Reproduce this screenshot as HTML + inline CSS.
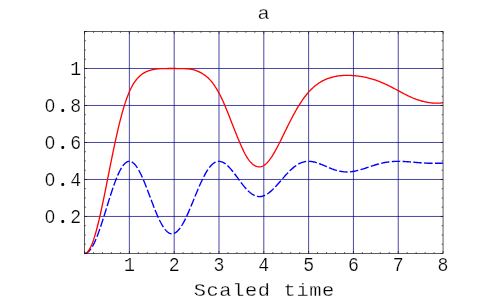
<!DOCTYPE html>
<html><head><meta charset="utf-8"><title>plot</title>
<style>
html,body{margin:0;padding:0;background:#fff;}
svg{display:block;will-change:transform}
.g{stroke:#000080;stroke-width:0.72;fill:none}
.t{stroke:#000;stroke-width:0.6;fill:none}
.f{stroke:#000;stroke-width:0.64;fill:none}
.b{stroke:#0000ff;stroke-width:1.38;fill:none;stroke-dasharray:8.4 2.4}
.r{stroke:#ff0000;stroke-width:1.32;fill:none}
text{font-family:"Liberation Mono",monospace;fill:#000;stroke:#fff;stroke-width:0.25px}
.d{font-size:20.0px}
.l{font-size:18.0px}
</style></head>
<body>
<svg width="491" height="304" viewBox="0 0 491 304">
<rect width="491" height="304" fill="#fff"/>
<line x1="129.36" y1="31.50" x2="129.36" y2="253.45" class="g"/>
<line x1="174.18" y1="31.50" x2="174.18" y2="253.45" class="g"/>
<line x1="218.99" y1="31.50" x2="218.99" y2="253.45" class="g"/>
<line x1="263.80" y1="31.50" x2="263.80" y2="253.45" class="g"/>
<line x1="308.61" y1="31.50" x2="308.61" y2="253.45" class="g"/>
<line x1="353.43" y1="31.50" x2="353.43" y2="253.45" class="g"/>
<line x1="398.24" y1="31.50" x2="398.24" y2="253.45" class="g"/>
<line x1="84.55" y1="216.46" x2="443.05" y2="216.46" class="g"/>
<line x1="84.55" y1="179.47" x2="443.05" y2="179.47" class="g"/>
<line x1="84.55" y1="142.47" x2="443.05" y2="142.47" class="g"/>
<line x1="84.55" y1="105.48" x2="443.05" y2="105.48" class="g"/>
<line x1="84.55" y1="68.49" x2="443.05" y2="68.49" class="g"/>
<path d="M84.55,253.45v-2.4 M84.55,31.50v2.4 M93.51,253.45v-1.4 M93.51,31.50v1.4 M102.47,253.45v-1.4 M102.47,31.50v1.4 M111.44,253.45v-1.4 M111.44,31.50v1.4 M120.40,253.45v-1.4 M120.40,31.50v1.4 M129.36,253.45v-2.4 M129.36,31.50v2.4 M138.32,253.45v-1.4 M138.32,31.50v1.4 M147.29,253.45v-1.4 M147.29,31.50v1.4 M156.25,253.45v-1.4 M156.25,31.50v1.4 M165.21,253.45v-1.4 M165.21,31.50v1.4 M174.18,253.45v-2.4 M174.18,31.50v2.4 M183.14,253.45v-1.4 M183.14,31.50v1.4 M192.10,253.45v-1.4 M192.10,31.50v1.4 M201.06,253.45v-1.4 M201.06,31.50v1.4 M210.03,253.45v-1.4 M210.03,31.50v1.4 M218.99,253.45v-2.4 M218.99,31.50v2.4 M227.95,253.45v-1.4 M227.95,31.50v1.4 M236.91,253.45v-1.4 M236.91,31.50v1.4 M245.88,253.45v-1.4 M245.88,31.50v1.4 M254.84,253.45v-1.4 M254.84,31.50v1.4 M263.80,253.45v-2.4 M263.80,31.50v2.4 M272.76,253.45v-1.4 M272.76,31.50v1.4 M281.73,253.45v-1.4 M281.73,31.50v1.4 M290.69,253.45v-1.4 M290.69,31.50v1.4 M299.65,253.45v-1.4 M299.65,31.50v1.4 M308.61,253.45v-2.4 M308.61,31.50v2.4 M317.57,253.45v-1.4 M317.57,31.50v1.4 M326.54,253.45v-1.4 M326.54,31.50v1.4 M335.50,253.45v-1.4 M335.50,31.50v1.4 M344.46,253.45v-1.4 M344.46,31.50v1.4 M353.43,253.45v-2.4 M353.43,31.50v2.4 M362.39,253.45v-1.4 M362.39,31.50v1.4 M371.35,253.45v-1.4 M371.35,31.50v1.4 M380.31,253.45v-1.4 M380.31,31.50v1.4 M389.28,253.45v-1.4 M389.28,31.50v1.4 M398.24,253.45v-2.4 M398.24,31.50v2.4 M407.20,253.45v-1.4 M407.20,31.50v1.4 M416.16,253.45v-1.4 M416.16,31.50v1.4 M425.13,253.45v-1.4 M425.13,31.50v1.4 M434.09,253.45v-1.4 M434.09,31.50v1.4 M443.05,253.45v-2.4 M443.05,31.50v2.4 M84.55,253.45h2.4 M443.05,253.45h-2.4 M84.55,244.20h1.4 M443.05,244.20h-1.4 M84.55,234.95h1.4 M443.05,234.95h-1.4 M84.55,225.71h1.4 M443.05,225.71h-1.4 M84.55,216.46h2.4 M443.05,216.46h-2.4 M84.55,207.21h1.4 M443.05,207.21h-1.4 M84.55,197.96h1.4 M443.05,197.96h-1.4 M84.55,188.71h1.4 M443.05,188.71h-1.4 M84.55,179.47h2.4 M443.05,179.47h-2.4 M84.55,170.22h1.4 M443.05,170.22h-1.4 M84.55,160.97h1.4 M443.05,160.97h-1.4 M84.55,151.72h1.4 M443.05,151.72h-1.4 M84.55,142.47h2.4 M443.05,142.47h-2.4 M84.55,133.23h1.4 M443.05,133.23h-1.4 M84.55,123.98h1.4 M443.05,123.98h-1.4 M84.55,114.73h1.4 M443.05,114.73h-1.4 M84.55,105.48h2.4 M443.05,105.48h-2.4 M84.55,96.24h1.4 M443.05,96.24h-1.4 M84.55,86.99h1.4 M443.05,86.99h-1.4 M84.55,77.74h1.4 M443.05,77.74h-1.4 M84.55,68.49h2.4 M443.05,68.49h-2.4 M84.55,59.24h1.4 M443.05,59.24h-1.4 M84.55,50.00h1.4 M443.05,50.00h-1.4 M84.55,40.75h1.4 M443.05,40.75h-1.4 M84.55,31.50h2.4 M443.05,31.50h-2.4" class="t"/>
<path d="M84.55,253.45 L85.45,253.36 L86.34,253.08 L87.24,252.61 L88.13,251.97 L89.03,251.14 L89.93,250.14 L90.82,248.96 L91.72,247.62 L92.62,246.11 L93.51,244.45 L94.41,242.64 L95.30,240.69 L96.20,238.60 L97.10,236.39 L97.99,234.06 L98.89,231.63 L99.79,229.10 L100.68,226.48 L101.58,223.79 L102.47,221.04 L103.37,218.23 L104.27,215.38 L105.16,212.50 L106.06,209.60 L106.96,206.69 L107.85,203.79 L108.75,200.91 L109.64,198.05 L110.54,195.23 L111.44,192.47 L112.33,189.76 L113.23,187.13 L114.13,184.58 L115.02,182.12 L115.92,179.76 L116.81,177.51 L117.71,175.39 L118.61,173.39 L119.50,171.52 L120.40,169.80 L121.30,168.22 L122.19,166.80 L123.09,165.53 L123.98,164.42 L124.88,163.49 L125.78,162.71 L126.67,162.11 L127.57,161.68 L128.47,161.43 L129.36,161.34 L130.26,161.43 L131.16,161.68 L132.05,162.10 L132.95,162.69 L133.84,163.43 L134.74,164.33 L135.64,165.39 L136.53,166.58 L137.43,167.92 L138.32,169.39 L139.22,170.98 L140.12,172.70 L141.01,174.52 L141.91,176.44 L142.81,178.45 L143.70,180.54 L144.60,182.71 L145.50,184.94 L146.39,187.22 L147.29,189.55 L148.18,191.90 L149.08,194.28 L149.98,196.67 L150.87,199.06 L151.77,201.44 L152.66,203.80 L153.56,206.13 L154.46,208.42 L155.35,210.66 L156.25,212.84 L157.15,214.95 L158.04,216.99 L158.94,218.94 L159.83,220.80 L160.73,222.55 L161.63,224.20 L162.52,225.73 L163.42,227.15 L164.32,228.44 L165.21,229.59 L166.11,230.62 L167.00,231.50 L167.90,232.24 L168.80,232.84 L169.69,233.30 L170.59,233.60 L171.49,233.76 L172.38,233.77 L173.28,233.63 L174.18,233.35 L175.07,232.93 L175.97,232.36 L176.86,231.65 L177.76,230.81 L178.66,229.84 L179.55,228.74 L180.45,227.52 L181.34,226.19 L182.24,224.74 L183.14,223.19 L184.03,221.55 L184.93,219.81 L185.83,218.00 L186.72,216.11 L187.62,214.15 L188.51,212.13 L189.41,210.06 L190.31,207.95 L191.20,205.81 L192.10,203.63 L193.00,201.45 L193.89,199.25 L194.79,197.05 L195.69,194.86 L196.58,192.69 L197.48,190.54 L198.37,188.42 L199.27,186.34 L200.17,184.31 L201.06,182.33 L201.96,180.42 L202.86,178.56 L203.75,176.78 L204.65,175.08 L205.54,173.46 L206.44,171.93 L207.34,170.49 L208.23,169.15 L209.13,167.91 L210.02,166.77 L210.92,165.74 L211.82,164.81 L212.71,163.99 L213.61,163.28 L214.51,162.68 L215.40,162.20 L216.30,161.82 L217.19,161.55 L218.09,161.39 L218.99,161.34 L219.88,161.39 L220.78,161.55 L221.68,161.80 L222.57,162.15 L223.47,162.59 L224.37,163.12 L225.26,163.73 L226.16,164.42 L227.05,165.19 L227.95,166.02 L228.85,166.92 L229.74,167.88 L230.64,168.89 L231.53,169.95 L232.43,171.05 L233.33,172.19 L234.22,173.35 L235.12,174.54 L236.02,175.75 L236.91,176.96 L237.81,178.19 L238.70,179.41 L239.60,180.62 L240.50,181.83 L241.39,183.01 L242.29,184.17 L243.19,185.31 L244.08,186.41 L244.98,187.47 L245.88,188.50 L246.77,189.47 L247.67,190.40 L248.56,191.27 L249.46,192.08 L250.36,192.83 L251.25,193.52 L252.15,194.14 L253.05,194.70 L253.94,195.19 L254.84,195.60 L255.73,195.94 L256.63,196.21 L257.53,196.41 L258.42,196.53 L259.32,196.58 L260.21,196.56 L261.11,196.46 L262.01,196.29 L262.90,196.06 L263.80,195.75 L264.70,195.38 L265.59,194.94 L266.49,194.45 L267.38,193.89 L268.28,193.28 L269.18,192.61 L270.07,191.89 L270.97,191.13 L271.87,190.32 L272.76,189.48 L273.66,188.59 L274.56,187.68 L275.45,186.74 L276.35,185.77 L277.24,184.78 L278.14,183.77 L279.04,182.75 L279.93,181.72 L280.83,180.69 L281.73,179.66 L282.62,178.62 L283.52,177.60 L284.41,176.58 L285.31,175.57 L286.21,174.59 L287.10,173.62 L288.00,172.67 L288.89,171.75 L289.79,170.86 L290.69,169.99 L291.58,169.17 L292.48,168.37 L293.38,167.61 L294.27,166.89 L295.17,166.22 L296.06,165.58 L296.96,164.99 L297.86,164.44 L298.75,163.93 L299.65,163.47 L300.55,163.06 L301.44,162.69 L302.34,162.37 L303.24,162.09 L304.13,161.86 L305.03,161.67 L305.92,161.52 L306.82,161.42 L307.72,161.36 L308.61,161.34 L309.51,161.36 L310.40,161.42 L311.30,161.51 L312.20,161.64 L313.09,161.80 L313.99,161.99 L314.89,162.20 L315.78,162.45 L316.68,162.72 L317.57,163.01 L318.47,163.32 L319.37,163.64 L320.26,163.99 L321.16,164.34 L322.06,164.71 L322.95,165.09 L323.85,165.47 L324.75,165.85 L325.64,166.24 L326.54,166.63 L327.43,167.02 L328.33,167.40 L329.23,167.77 L330.12,168.14 L331.02,168.50 L331.91,168.85 L332.81,169.18 L333.71,169.50 L334.60,169.80 L335.50,170.09 L336.40,170.36 L337.29,170.61 L338.19,170.84 L339.08,171.05 L339.98,171.24 L340.88,171.41 L341.77,171.55 L342.67,171.68 L343.57,171.78 L344.46,171.85 L345.36,171.91 L346.25,171.94 L347.15,171.94 L348.05,171.93 L348.94,171.89 L349.84,171.83 L350.74,171.75 L351.63,171.65 L352.53,171.53 L353.43,171.39 L354.32,171.23 L355.22,171.06 L356.11,170.87 L357.01,170.66 L357.91,170.44 L358.80,170.21 L359.70,169.96 L360.60,169.71 L361.49,169.44 L362.39,169.16 L363.28,168.88 L364.18,168.59 L365.08,168.30 L365.97,168.00 L366.87,167.70 L367.77,167.40 L368.66,167.09 L369.56,166.79 L370.45,166.49 L371.35,166.19 L372.25,165.89 L373.14,165.60 L374.04,165.31 L374.94,165.03 L375.83,164.76 L376.73,164.50 L377.62,164.24 L378.52,163.99 L379.42,163.75 L380.31,163.52 L381.21,163.30 L382.11,163.09 L383.00,162.90 L383.90,162.71 L384.79,162.54 L385.69,162.38 L386.59,162.23 L387.48,162.09 L388.38,161.97 L389.27,161.85 L390.17,161.75 L391.07,161.66 L391.96,161.58 L392.86,161.52 L393.76,161.46 L394.65,161.42 L395.55,161.38 L396.44,161.36 L397.34,161.35 L398.24,161.34 L399.13,161.35 L400.03,161.36 L400.93,161.38 L401.82,161.41 L402.72,161.44 L403.62,161.48 L404.51,161.53 L405.41,161.58 L406.30,161.64 L407.20,161.70 L408.10,161.77 L408.99,161.84 L409.89,161.91 L410.79,161.98 L411.68,162.06 L412.58,162.13 L413.47,162.21 L414.37,162.28 L415.27,162.36 L416.16,162.44 L417.06,162.51 L417.96,162.58 L418.85,162.65 L419.75,162.72 L420.64,162.79 L421.54,162.85 L422.44,162.91 L423.33,162.96 L424.23,163.02 L425.12,163.06 L426.02,163.11 L426.92,163.15 L427.81,163.19 L428.71,163.22 L429.61,163.24 L430.50,163.27 L431.40,163.28 L432.30,163.30 L433.19,163.31 L434.09,163.31 L434.98,163.31 L435.88,163.31 L436.78,163.30 L437.67,163.29 L438.57,163.27 L439.47,163.25 L440.36,163.23 L441.26,163.20 L442.15,163.17 L443.05,163.13" class="b"/>
<path d="M84.55,253.45 L85.45,253.31 L86.34,252.89 L87.24,252.19 L88.13,251.22 L89.03,249.97 L89.93,248.46 L90.82,246.69 L91.72,244.67 L92.62,242.40 L93.51,239.89 L94.41,237.16 L95.30,234.22 L96.20,231.07 L97.10,227.73 L97.99,224.22 L98.89,220.54 L99.79,216.71 L100.68,212.74 L101.58,208.66 L102.47,204.46 L103.37,200.18 L104.27,195.82 L105.16,191.39 L106.06,186.92 L106.96,182.42 L107.85,177.90 L108.75,173.37 L109.64,168.86 L110.54,164.37 L111.44,159.91 L112.33,155.50 L113.23,151.15 L114.13,146.87 L115.02,142.68 L115.92,138.57 L116.81,134.56 L117.71,130.65 L118.61,126.86 L119.50,123.19 L120.40,119.64 L121.30,116.22 L122.19,112.93 L123.09,109.78 L123.98,106.77 L124.88,103.89 L125.78,101.16 L126.67,98.59 L127.57,96.17 L128.47,93.91 L129.36,91.79 L130.26,89.81 L131.16,87.97 L132.05,86.26 L132.95,84.68 L133.84,83.22 L134.74,81.87 L135.64,80.63 L136.53,79.48 L137.43,78.42 L138.32,77.45 L139.22,76.56 L140.12,75.73 L141.01,74.97 L141.91,74.28 L142.81,73.65 L143.70,73.08 L144.60,72.56 L145.50,72.09 L146.39,71.67 L147.29,71.29 L148.18,70.94 L149.08,70.63 L149.98,70.34 L150.87,70.09 L151.77,69.86 L152.66,69.66 L153.56,69.48 L154.46,69.32 L155.35,69.18 L156.25,69.05 L157.15,68.95 L158.04,68.85 L158.94,68.78 L159.83,68.71 L160.73,68.66 L161.63,68.62 L162.52,68.59 L163.42,68.58 L164.32,68.56 L165.21,68.55 L166.11,68.55 L167.00,68.54 L167.90,68.53 L168.80,68.53 L169.69,68.53 L170.59,68.53 L171.49,68.53 L172.38,68.53 L173.28,68.53 L174.18,68.53 L175.07,68.53 L175.97,68.53 L176.86,68.54 L177.76,68.54 L178.66,68.55 L179.55,68.56 L180.45,68.57 L181.34,68.59 L182.24,68.61 L183.14,68.63 L184.03,68.65 L184.93,68.69 L185.83,68.72 L186.72,68.77 L187.62,68.82 L188.51,68.89 L189.41,68.99 L190.31,69.12 L191.20,69.27 L192.10,69.46 L193.00,69.67 L193.89,69.91 L194.79,70.18 L195.69,70.48 L196.58,70.81 L197.48,71.17 L198.37,71.56 L199.27,71.97 L200.17,72.42 L201.06,72.90 L201.96,73.40 L202.86,73.94 L203.75,74.52 L204.65,75.12 L205.54,75.77 L206.44,76.46 L207.34,77.22 L208.23,78.04 L209.13,78.92 L210.02,79.87 L210.92,80.89 L211.82,81.97 L212.71,83.13 L213.61,84.35 L214.51,85.64 L215.40,87.00 L216.30,88.42 L217.19,89.91 L218.09,91.47 L218.99,93.09 L219.88,94.78 L220.78,96.56 L221.68,98.41 L222.57,100.33 L223.47,102.32 L224.37,104.38 L225.26,106.49 L226.16,108.65 L227.05,110.85 L227.95,113.08 L228.85,115.34 L229.74,117.61 L230.64,119.89 L231.53,122.18 L232.43,124.46 L233.33,126.74 L234.22,129.00 L235.12,131.26 L236.02,133.50 L236.91,135.71 L237.81,137.90 L238.70,140.05 L239.60,142.17 L240.50,144.24 L241.39,146.26 L242.29,148.23 L243.19,150.15 L244.08,151.99 L244.98,153.73 L245.88,155.37 L246.77,156.90 L247.67,158.32 L248.56,159.62 L249.46,160.81 L250.36,161.89 L251.25,162.85 L252.15,163.71 L253.05,164.46 L253.94,165.10 L254.84,165.64 L255.73,166.08 L256.63,166.42 L257.53,166.67 L258.42,166.83 L259.32,166.89 L260.21,166.85 L261.11,166.69 L262.01,166.42 L262.90,166.03 L263.80,165.52 L264.70,164.91 L265.59,164.19 L266.49,163.37 L267.38,162.45 L268.28,161.44 L269.18,160.34 L270.07,159.15 L270.97,157.88 L271.87,156.54 L272.76,155.13 L273.66,153.65 L274.56,152.12 L275.45,150.54 L276.35,148.90 L277.24,147.23 L278.14,145.51 L279.04,143.77 L279.93,142.00 L280.83,140.20 L281.73,138.39 L282.62,136.56 L283.52,134.73 L284.41,132.89 L285.31,131.05 L286.21,129.22 L287.10,127.39 L288.00,125.58 L288.89,123.78 L289.79,121.99 L290.69,120.23 L291.58,118.50 L292.48,116.78 L293.38,115.10 L294.27,113.45 L295.17,111.83 L296.06,110.25 L296.96,108.70 L297.86,107.19 L298.75,105.72 L299.65,104.28 L300.55,102.89 L301.44,101.53 L302.34,100.22 L303.24,98.95 L304.13,97.71 L305.03,96.52 L305.92,95.37 L306.82,94.26 L307.72,93.20 L308.61,92.17 L309.51,91.18 L310.40,90.23 L311.30,89.32 L312.20,88.45 L313.09,87.62 L313.99,86.82 L314.89,86.06 L315.78,85.34 L316.68,84.65 L317.57,83.99 L318.47,83.37 L319.37,82.78 L320.26,82.22 L321.16,81.69 L322.06,81.18 L322.95,80.71 L323.85,80.26 L324.75,79.83 L325.64,79.43 L326.54,79.06 L327.43,78.70 L328.33,78.37 L329.23,78.06 L330.12,77.77 L331.02,77.50 L331.91,77.25 L332.81,77.02 L333.71,76.80 L334.60,76.60 L335.50,76.42 L336.40,76.26 L337.29,76.10 L338.19,75.97 L339.08,75.85 L339.98,75.74 L340.88,75.65 L341.77,75.57 L342.67,75.50 L343.57,75.44 L344.46,75.40 L345.36,75.37 L346.25,75.35 L347.15,75.35 L348.05,75.35 L348.94,75.37 L349.84,75.40 L350.74,75.44 L351.63,75.48 L352.53,75.54 L353.43,75.60 L354.32,75.67 L355.22,75.75 L356.11,75.84 L357.01,75.94 L357.91,76.04 L358.80,76.16 L359.70,76.28 L360.60,76.41 L361.49,76.56 L362.39,76.71 L363.28,76.87 L364.18,77.04 L365.08,77.22 L365.97,77.42 L366.87,77.62 L367.77,77.83 L368.66,78.05 L369.56,78.28 L370.45,78.53 L371.35,78.78 L372.25,79.04 L373.14,79.32 L374.04,79.60 L374.94,79.90 L375.83,80.21 L376.73,80.52 L377.62,80.85 L378.52,81.19 L379.42,81.54 L380.31,81.90 L381.21,82.27 L382.11,82.64 L383.00,83.03 L383.90,83.43 L384.79,83.83 L385.69,84.25 L386.59,84.67 L387.48,85.10 L388.38,85.54 L389.27,85.98 L390.17,86.43 L391.07,86.89 L391.96,87.35 L392.86,87.82 L393.76,88.29 L394.65,88.77 L395.55,89.24 L396.44,89.72 L397.34,90.20 L398.24,90.69 L399.13,91.17 L400.03,91.65 L400.93,92.13 L401.82,92.61 L402.72,93.09 L403.62,93.57 L404.51,94.03 L405.41,94.50 L406.30,94.96 L407.20,95.41 L408.10,95.85 L408.99,96.28 L409.89,96.70 L410.79,97.11 L411.68,97.51 L412.58,97.89 L413.47,98.26 L414.37,98.62 L415.27,98.96 L416.16,99.29 L417.06,99.60 L417.96,99.90 L418.85,100.19 L419.75,100.47 L420.64,100.74 L421.54,101.00 L422.44,101.25 L423.33,101.48 L424.23,101.70 L425.12,101.90 L426.02,102.09 L426.92,102.27 L427.81,102.43 L428.71,102.58 L429.61,102.71 L430.50,102.83 L431.40,102.93 L432.30,103.01 L433.19,103.08 L434.09,103.13 L434.98,103.16 L435.88,103.18 L436.78,103.18 L437.67,103.16 L438.57,103.13 L439.47,103.07 L440.36,103.01 L441.26,102.92 L442.15,102.82 L443.05,102.71" class="r"/>
<rect x="84.55" y="31.50" width="358.50" height="221.95" class="f"/>
<text class="d" transform="translate(123.90,270.80) scale(0.91,1)" style="letter-spacing:2.121px">1</text>
<text class="d" transform="translate(168.72,270.80) scale(0.91,1)" style="letter-spacing:2.121px">2</text>
<text class="d" transform="translate(213.53,270.80) scale(0.91,1)" style="letter-spacing:2.121px">3</text>
<text class="d" transform="translate(258.34,270.80) scale(0.91,1)" style="letter-spacing:2.121px">4</text>
<text class="d" transform="translate(303.15,270.80) scale(0.91,1)" style="letter-spacing:2.121px">5</text>
<text class="d" transform="translate(347.96,270.80) scale(0.91,1)" style="letter-spacing:2.121px">6</text>
<text class="d" transform="translate(392.78,270.80) scale(0.91,1)" style="letter-spacing:2.121px">7</text>
<text class="d" transform="translate(437.59,270.80) scale(0.91,1)" style="letter-spacing:2.121px">8</text>
<text class="d" transform="translate(44.52,222.86) scale(0.91,1)" style="letter-spacing:2.121px">0.2</text>
<text class="d" transform="translate(44.52,185.87) scale(0.91,1)" style="letter-spacing:2.121px">0.4</text>
<text class="d" transform="translate(44.52,148.87) scale(0.91,1)" style="letter-spacing:2.121px">0.6</text>
<text class="d" transform="translate(44.52,111.88) scale(0.91,1)" style="letter-spacing:2.121px">0.8</text>
<text class="d" transform="translate(70.22,74.89) scale(0.91,1)" style="letter-spacing:2.121px">1</text>
<text class="l" transform="translate(193.65,296) scale(1.13,1)" style="letter-spacing:0.572px">Scaled time</text>
<text class="l" transform="translate(257.40,19.1) scale(1.13,1)" style="letter-spacing:0.572px">a</text>
<ellipse cx="49.97" cy="216.26" rx="1.7" ry="2.8" fill="#fff"/>
<circle cx="62.82" cy="221.46" r="1.4" fill="#000"/>
<ellipse cx="49.97" cy="179.27" rx="1.7" ry="2.8" fill="#fff"/>
<circle cx="62.82" cy="184.47" r="1.4" fill="#000"/>
<ellipse cx="49.97" cy="142.27" rx="1.7" ry="2.8" fill="#fff"/>
<circle cx="62.82" cy="147.47" r="1.4" fill="#000"/>
<ellipse cx="49.97" cy="105.28" rx="1.7" ry="2.8" fill="#fff"/>
<circle cx="62.82" cy="110.48" r="1.4" fill="#000"/>
</svg>
</body></html>
